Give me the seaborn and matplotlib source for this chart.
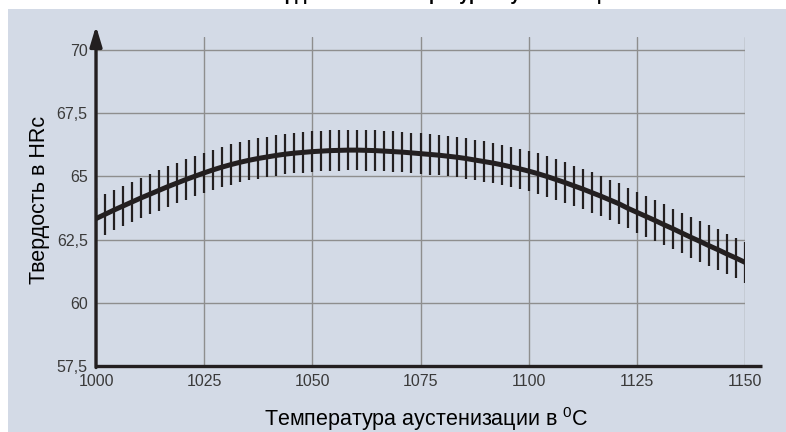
import numpy as np
import pandas as pd
import seaborn as sns
import matplotlib.pyplot as plt
from matplotlib.patches import Rectangle

# ---- data ----
temperature = np.linspace(1000, 1150, 73)
hardness = [
    63.33, 63.50, 63.67, 63.83, 63.99, 64.15, 64.30, 64.45, 64.60, 64.74, 64.88, 65.01, 65.14,
    65.26, 65.37, 65.47, 65.56, 65.64, 65.71, 65.77, 65.83, 65.88, 65.92, 65.95, 65.98,
    66.00, 66.02, 66.03, 66.04, 66.04, 66.03, 66.02, 66.00, 65.98, 65.96, 65.93, 65.90,
    65.87, 65.84, 65.80, 65.76, 65.71, 65.65, 65.59, 65.53, 65.46, 65.38, 65.30, 65.21,
    65.11, 65.00, 64.88, 64.76, 64.63, 64.50, 64.36, 64.22, 64.07, 63.92, 63.74, 63.58,
    63.42, 63.26, 63.09, 62.93, 62.76, 62.59, 62.43, 62.26, 62.10, 61.93, 61.77, 61.60,
]
spread = 0.8
x_ticks = [1000, 1025, 1050, 1075, 1100, 1125, 1150]
y_ticks = [57.5, 60, 62.5, 65, 67.5, 70]
y_tick_labels = ["57,5", "60", "62,5", "65", "67,5", "70"]
title = "Зависимость твердости от температуры аустенизации"
xlabel = "Температура аустенизации в $^{\\mathrm{0}}$C"
ylabel = "Твердость в HRc"

df = pd.DataFrame({"t": temperature, "h": hardness})

BG = "#D3DAE6"
INK = "#231f20"
W, H = 786, 432

sns.set_theme(style="white")
plt.rcParams["font.family"] = ["Liberation Sans", "DejaVu Sans"]
plt.rcParams["mathtext.fontset"] = "custom"
plt.rcParams["mathtext.rm"] = "Liberation Sans"
plt.rcParams["mathtext.it"] = "Liberation Sans:italic"
plt.rcParams["mathtext.bf"] = "Liberation Sans:bold"

fig = plt.figure(figsize=(W / 100, H / 100), dpi=100, facecolor="white")
fig.patches.append(Rectangle((8 / W, 0), 1 - 8 / W, 1 - 9 / H, transform=fig.transFigure,
                             facecolor=BG, edgecolor="none", zorder=-10))

ax = fig.add_axes([96 / W, 66 / H, 649 / W, 329 / H])
ax.set_facecolor("none")

ax.vlines(df["t"], df["h"] - spread, df["h"] + spread, color=INK, linewidth=1.6, zorder=3)
sns.lineplot(data=df, x="t", y="h", ax=ax, color=INK, linewidth=3.6, zorder=4)

ax.set_xlim(1000, 1150)
ax.set_ylim(57.5, 70.514)
ax.set_xticks(x_ticks)
ax.set_xticklabels([str(v) for v in x_ticks])
ax.set_yticks(y_ticks)
ax.set_yticklabels(y_tick_labels)
ax.grid(True, color="#8e8e8e", linewidth=1.0)
ax.set_axisbelow(True)
for s in ax.spines.values():
    s.set_visible(False)
ax.set_xlabel("")
ax.set_ylabel("")

for lab in ax.get_xticklabels() + ax.get_yticklabels():
    lab.set_fontfamily(["Liberation Sans Narrow", "Liberation Sans"])
    lab.set_fontsize(11.5)
    lab.set_color("#3a3a3a")
ax.tick_params(axis="both", length=0)
ax.tick_params(axis="y", pad=6)
ax.tick_params(axis="x", pad=6)

# axis lines
ax.plot([1000, 1153.9], [57.5, 57.5], color=INK, linewidth=2.4, clip_on=False,
        solid_capstyle="butt", zorder=5)
ax.annotate("", xy=(1000, 70.95), xytext=(1000, 57.44),
            arrowprops=dict(arrowstyle="-|>,head_length=1.0,head_width=0.3",
                            lw=2.4, color=INK, shrinkA=0, shrinkB=0),
            annotation_clip=False, zorder=5)

# title: only its lowest part shows above the panel, as in the reference
fig.text(377 / W, 1.0, title, fontweight="bold", fontsize=13,
         ha="center", va="baseline", color="black")
fig.text(426 / W, 6 / H, xlabel, fontsize=15.5, ha="center", va="baseline", color="black")
fig.text(40 / W, 1 - 200 / H, ylabel, fontsize=15.5, rotation=90,
         ha="center", va="center", color="black")

fig.savefig("out.png", dpi=100, facecolor=fig.get_facecolor())
